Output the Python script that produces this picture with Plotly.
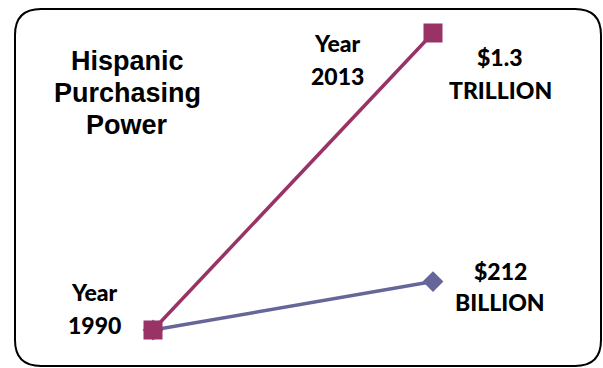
import plotly.graph_objects as go

W, H = 603, 368

# Data
years = [1990, 2013]
purchasing_low = [0, 212]      # $ billion series (diamonds)
purchasing_high = [0, 1300]    # $ billion series (squares)
title_lines = ["Hispanic", "Purchasing", "Power"]
start_labels = ["Year", "1990"]
end_labels = ["Year", "2013"]
high_labels = ["$1.3", "TRILLION"]
low_labels = ["$212", "BILLION"]

MAG = "#993366"
BLU = "#666699"

fig = go.Figure()
fig.add_trace(go.Scatter(x=years, y=purchasing_low, mode="lines+markers",
                         line=dict(color=BLU, width=3.5),
                         marker=dict(symbol="diamond", size=16, color=BLU)))
fig.add_trace(go.Scatter(x=years, y=purchasing_high, mode="lines+markers",
                         line=dict(color=MAG, width=3.5),
                         marker=dict(symbol="square", size=19, color=MAG)))

# axis ranges chosen so 1990->153px, 2013->433px, 0->330px, 1300->33px
pxx = (433 - 153) / (2013 - 1990)
x0 = 1990 - 153 / pxx
x1 = 2013 + (W - 433) / pxx
pyy = (330 - 33) / 1300
y1 = 1300 + 33 / pyy
y0 = 0 - (H - 330) / pyy

def px(x):
    return x / W

def py(y):
    return 1 - y / H

# rounded rectangle border
L, R, T, B, r = 15, 601, 9, 366, 26
pts = [
    ("M", [(L + r, T)]),
    ("L", [(R - r, T)]),
    ("Q", [(R, T), (R, T + r)]),
    ("L", [(R, B - r)]),
    ("Q", [(R, B), (R - r, B)]),
    ("L", [(L + r, B)]),
    ("Q", [(L, B), (L, B - r)]),
    ("L", [(L, T + r)]),
    ("Q", [(L, T), (L + r, T)]),
]
path = ""
for cmd, cs in pts:
    path += cmd + " " + " ".join(f"{px(a):.5f},{py(b):.5f}" for a, b in cs) + " "
path += "Z"
shapes = [dict(type="path", xref="paper", yref="paper", path=path,
               line=dict(color="black", width=2), fillcolor="rgba(0,0,0,0)")]

annotations = []
TF = dict(family="Liberation Sans, Arial, sans-serif", size=27, color="black")
for i, t in enumerate(title_lines):
    annotations.append(dict(xref="paper", yref="paper", x=px(127), y=py(61 + 32 * i),
                            text=f"<b>{t}</b>", showarrow=False, font=TF,
                            xanchor="center", yanchor="middle"))
LF = dict(family="Lato, sans-serif", size=23, color="black", weight=900)
def add_pair(labels, cx, cys):
    for t, cy in zip(labels, cys):
        annotations.append(dict(xref="paper", yref="paper", x=px(cx), y=py(cy),
                                text=t, showarrow=False, font=LF,
                                xanchor="center", yanchor="middle"))
add_pair(start_labels, 94, [292, 325])
add_pair(end_labels, 337, [43, 76])
add_pair(high_labels, 500, [57, 90])
add_pair(low_labels, 500, [271, 302])

fig.update_layout(
    width=W, height=H, margin=dict(l=0, r=0, t=0, b=0),
    paper_bgcolor="white", plot_bgcolor="white", showlegend=False,
    xaxis=dict(range=[x0, x1], visible=False, showgrid=False, zeroline=False),
    yaxis=dict(range=[y0, y1], visible=False, showgrid=False, zeroline=False),
    shapes=shapes, annotations=annotations,
)
fig.write_html("out.html", config={"displayModeBar": False},
               post_script="document.body.style.margin='0';")
